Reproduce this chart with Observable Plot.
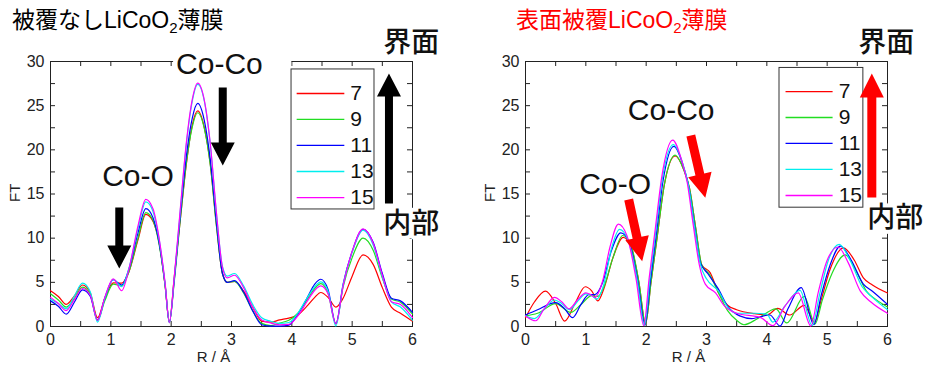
<!DOCTYPE html>
<html><head><meta charset="utf-8">
<script src="https://cdn.jsdelivr.net/npm/d3@7"></script>
<script src="https://cdn.jsdelivr.net/npm/@observablehq/plot@0.6"></script>
<style>
body{margin:0;background:#fff;}
#wrap{position:relative;width:926px;height:370px;overflow:hidden;}
.title{position:absolute;top:5px;font-size:23px;line-height:30px;white-space:nowrap;font-family:"Liberation Sans","Noto Sans CJK JP",sans-serif;}
.title sub{font-size:15px;vertical-align:-5px;line-height:0}
.panel{position:absolute;top:0}
</style></head>
<body><div id="wrap">
<div class="title" style="left:12px;color:#000">被覆なしLiCoO<sub>2</sub>薄膜</div>
<div class="title" style="left:516px;color:#ff0000">表面被覆LiCoO<sub>2</sub>薄膜</div>
</div>
<script>
// ---- categories / colours ----
const series = ["7", "9", "11", "13", "15"];
const colors = ["#ff0000", "#22dd22", "#0000ff", "#00eeee", "#ff00ff"];
const xTickLabels = [0, 1, 2, 3, 4, 5, 6];
const yTickLabels = [0, 5, 10, 15, 20, 25, 30];
const xMinor = [0,0.5,1,1.5,2,2.5,3,3.5,4,4.5,5,5.5,6];
const yMinor = [0,2.5,5,7.5,10,12.5,15,17.5,20,22.5,25,27.5,30];

// ---- left panel (uncoated) : shared R grid ----
const X_L = [0,0.13,0.26,0.4,0.53,0.66,0.78,0.9,1.04,1.18,1.3,1.45,1.58,1.7,1.8,1.9,1.97,2.05,2.15,2.25,2.35,2.44,2.55,2.65,2.75,2.85,2.93,3.05,3.2,3.35,3.5,3.65,3.8,3.95,4.1,4.25,4.38,4.48,4.6,4.73,4.85,5.0,5.18,5.35,5.5,5.65,5.8,6.0];
const L7  = [4.05,3.4,2.5,3.5,4.7, 3.8,1.0,3.2,4.95,4.9, 6.2,9.8,12.7,11.9,9.5, 4.6,0.5,5.5,12.0,18.3, 22.8,24.4,22.5,18.3,11.5, 6.0,5.0,5.1,4.0,2.2, 0.6,0.5,0.75,0.95,1.3, 2.3,3.3,3.85,3.3,2.2, 3.2,5.7,8.1,7.0,4.4, 2.2,1.5,0.6];
const L9  = [3.7,3.0,2.2,3.2,4.45, 3.6,0.75,2.9,4.8,4.6, 6.2,10.0,12.9,12.0,9.3, 4.6,0.45,5.0,12.0,18.4, 22.6,24.2,22.4,18.2,11.4, 6.0,5.0,5.1,3.8,1.8, 0.35,0.1,0.4,0.7,1.5, 3.0,4.3,4.85,3.8,0.3, 4.5,7.8,10.0,8.6,5.5, 3.1,2.75,1.4];
const L11 = [2.9,2.3,1.4,2.8,4.15, 3.4,0.7,3.2,5.3,4.7, 6.5,10.6,13.35,12.3,9.5, 4.7,0.45,5.2,12.5,19.2, 23.6,25.25,23.3,18.8,11.8, 6.0,5.0,5.2,3.9,1.8, 0.2,0.05,0.05,0.15,1.4, 3.2,4.8,5.35,4.2,0.3, 4.8,8.5,11.0,9.5,6.0, 3.2,2.9,1.6];
const L13 = [3.1,2.6,2.0,3.5,4.9, 3.9,0.5,3.2,5.3,4.5, 6.6,11.1,14.1,13.0,9.9, 4.8,0.45,5.4,13.0,20.5, 25.5,27.4,25.5,20.5,12.8, 6.8,5.7,6.0,4.6,2.5, 1.0,0.6,0.35,0.45,1.5, 3.2,4.5,5.05,4.0,0.05, 4.7,8.4,10.9,9.2,5.6, 2.8,2.2,0.7];
const L15 = [3.3,2.6,1.8,3.1,4.3, 3.5,0.7,3.3,5.4,4.05, 6.5,11.4,14.4,13.3,10.0, 4.9,0.45,5.5,13.2,20.7, 25.7,27.55,25.6,20.6,12.9, 6.7,5.5,5.8,4.4,2.2, 0.75,0.4,0.2,0.25,1.2, 2.8,4.1,4.6,3.7,0.3, 4.6,8.5,11.05,9.4,5.8, 2.8,2.5,1.0];

// ---- right panel (coated) : per-series R / FT ----
const R7x  = [0,0.15,0.33,0.5,0.65,0.82,0.99,1.1,1.2,1.3,1.45,1.62,1.75,1.88,1.99,2.08,2.18,2.3,2.48,2.62,2.72,2.82,2.92,3.06,3.2,3.35,3.5,3.8,4.0,4.18,4.38,4.62,4.79,4.9,5.05,5.27,5.45,5.6,5.75,6.0];
const R7y  = [1.0,2.8,4.0,2.6,0.6,2.6,4.5,4.0,2.9,4.3,7.8,10.1,9.0,5.0,0.3,5.0,10.0,16.0,19.3,17.8,15.6,11.2,7.0,6.1,3.8,2.4,1.9,1.45,1.3,2.05,1.3,2.4,0.5,3.0,6.5,8.9,7.5,5.5,4.7,3.8];
const R9x  = [0,0.2,0.5,0.75,0.92,1.1,1.2,1.3,1.45,1.61,1.75,1.88,1.99,2.08,2.18,2.3,2.48,2.62,2.72,2.82,2.92,3.05,3.2,3.35,3.5,3.62,3.85,4.15,4.33,4.62,4.8,4.92,5.08,5.3,5.5,5.65,5.8,6.0];
const R9y  = [1.2,1.5,2.6,1.6,2.5,3.5,3.4,4.5,7.8,10.3,9.2,5.0,0.3,5.0,10.0,16.0,19.4,17.8,15.6,11.2,7.0,5.9,3.8,1.8,0.7,0.2,0.9,2.0,0.4,3.4,0.3,3.0,6.0,8.1,6.0,4.0,3.1,2.2];
const R11x = [0,0.2,0.5,0.65,0.78,0.92,1.05,1.15,1.28,1.42,1.58,1.72,1.86,1.98,2.07,2.17,2.28,2.46,2.6,2.7,2.8,2.9,3.02,3.2,3.35,3.55,3.75,4.05,4.22,4.35,4.57,4.78,4.9,5.05,5.22,5.4,5.6,5.75,6.0];
const R11y = [1.3,1.9,2.7,2.0,1.0,2.5,3.6,3.6,5.0,8.5,10.6,9.5,5.2,0.2,5.2,10.5,16.5,20.4,18.5,16.0,11.5,7.2,6.0,4.2,2.3,1.2,0.9,1.3,0.05,2.0,4.4,0.2,3.5,7.0,9.1,7.5,4.8,4.0,2.5];
const R13x = [0,0.15,0.3,0.48,0.6,0.73,0.87,1.0,1.1,1.18,1.3,1.42,1.56,1.7,1.85,1.97,2.06,2.16,2.27,2.45,2.6,2.7,2.8,2.9,3.0,3.2,3.35,3.5,3.8,4.0,4.1,4.3,4.55,4.75,4.88,5.02,5.2,5.38,5.58,5.72,6.0];
const R13y = [1.2,0.9,1.9,3.0,2.6,1.9,2.9,3.7,3.5,3.1,4.8,8.7,11.0,9.8,5.3,0.1,5.3,10.8,16.8,20.6,18.6,16.0,11.3,7.0,5.4,4.0,2.2,1.5,1.5,1.4,0.5,2.3,4.1,0.1,3.8,7.5,9.3,7.5,4.5,3.5,1.9];
const R15x = [0,0.17,0.3,0.48,0.6,0.72,0.86,1.0,1.08,1.15,1.28,1.4,1.54,1.68,1.83,1.96,2.05,2.15,2.26,2.44,2.58,2.68,2.78,2.88,2.98,3.15,3.3,3.5,3.9,4.1,4.3,4.52,4.73,4.85,5.0,5.18,5.35,5.55,5.72,6.0];
const R15y = [1.2,0.65,1.9,3.3,2.8,2.0,3.0,3.8,3.6,3.3,5.2,9.0,11.6,10.3,5.5,0.1,5.5,11.0,17.0,21.1,19.0,16.3,11.5,7.0,4.8,3.8,2.3,1.5,1.0,0.1,2.3,3.8,0.05,3.8,7.5,9.0,7.2,4.0,2.8,1.5];

// ---- build tables ----
const leftSeries = [L7, L9, L11, L13, L15].map(ys => X_L.map((R, i) => ({R, FT: ys[i]})));
const rightSeries = [[R7x,R7y],[R9x,R9y],[R11x,R11y],[R13x,R13y],[R15x,R15y]]
  .map(([xs, ys]) => xs.map((R, i) => ({R, FT: ys[i]})));

// ---- layout (annotation placement, in data units) ----
const W = 463, H = 370;
const layouts = [
  {
    margins: {marginLeft: 50, marginRight: 51, marginTop: 61, marginBottom: 44},
    data: leftSeries,
    legend: {x1: 3.995, x2: 5.37, y1: 13.25, y2: 29.1, lx1: 4.08, lx2: 4.87, tx: 4.97, rows: [26.38, 23.44, 20.5, 17.55, 14.6]},
    labels: [{t: "Co-O", x: 1.45, y: 17.0}, {t: "Co-Co", x: 2.80, y: 29.66}],
    sideLabels: [{t: "界面", x: 5.98, y: 32.1}, {t: "内部", x: 5.98, y: 11.55}],
    gap: {x1: 2.04, x2: 4.0, y1: 29.4, y2: 30.6},
    arrows: [
      {x1: 1.14, y1: 13.47, x2: 1.14, y2: 6.57},
      {x1: 2.855, y1: 27.06, x2: 2.855, y2: 18.23},
      {x1: 5.61, y1: 13.93, x2: 5.61, y2: 28.64}
    ],
    arrowColor: "#000000", arrowShape: [4, 12, 23]
  },
  {
    margins: {marginLeft: 62, marginRight: 39, marginTop: 61, marginBottom: 44},
    data: rightSeries,
    legend: {x1: 4.21, x2: 5.60, y1: 13.45, y2: 29.27, lx1: 4.31, lx2: 5.09, tx: 5.19, rows: [26.6, 23.66, 20.72, 17.78, 14.83]},
    labels: [{t: "Co-O", x: 1.487, y: 16.05}, {t: "Co-Co", x: 2.415, y: 24.5}],
    sideLabels: [{t: "界面", x: 5.98, y: 32.1}, {t: "内部", x: 6.13, y: 12.26}],
    gap: null,
    arrows: [
      {x1: 1.71, y1: 14.38, x2: 1.934, y2: 7.39},
      {x1: 2.74, y1: 21.62, x2: 2.98, y2: 14.57},
      {x1: 5.74, y1: 14.6, x2: 5.74, y2: 28.64}
    ],
    arrowColor: "#ff0000", arrowShape: [4.5, 12, 24]
  }
];

function blockArrow(sw, hw, hl) {
  return {
    draw(ctx, l) {
      const b = -(l - hl);
      ctx.moveTo(-sw, 0); ctx.lineTo(-sw, b); ctx.lineTo(-hw, b);
      ctx.lineTo(0, -l); ctx.lineTo(hw, b); ctx.lineTo(sw, b);
      ctx.lineTo(sw, 0); ctx.closePath();
    }
  };
}

const FONT = "'Liberation Sans', Arial, 'Noto Sans CJK JP', sans-serif";
const CJK = "'Noto Sans CJK JP', sans-serif";
const wrap = document.getElementById("wrap");

layouts.forEach((lay, p) => {
  const m = lay.margins;
  const pw = W - m.marginLeft - m.marginRight, ph = H - m.marginTop - m.marginBottom;
  const kx = pw / 6, ky = ph / 30;
  const arrows = lay.arrows.map(a => {
    const dx = (a.x2 - a.x1) * kx, dy = -(a.y2 - a.y1) * ky;
    return {...a, len: Math.hypot(dx, dy), rot: Math.atan2(dx, -dy) * 180 / Math.PI};
  });
  const lg = lay.legend;
  const marks = [];
  // frame + ticks (inward, on all four sides)
  marks.push(Plot.frame({stroke: "#222", strokeWidth: 1}));
  marks.push(Plot.tickY(yMinor, {y: d => d, insetRight: pw - 5, stroke: "#222"}));
  marks.push(Plot.tickY(yMinor, {y: d => d, insetLeft: pw - 5, stroke: "#222"}));
  marks.push(Plot.tickX(xMinor, {x: d => d, insetTop: ph - 5, stroke: "#222"}));
  marks.push(Plot.tickX(xMinor, {x: d => d, insetBottom: ph - 5, stroke: "#222"}));
  marks.push(Plot.axisX(xTickLabels, {tickSize: 0, tickPadding: 7, label: null, fontSize: 16}));
  marks.push(Plot.axisY(yTickLabels, {tickSize: 0, tickPadding: 6, label: null, fontSize: 16}));
  marks.push(Plot.text(["FT"], {text: d => d, frameAnchor: "left", rotate: -90, dx: -35, dy: 8, fontSize: 15, fill: "#222"}));
  marks.push(Plot.text(["R / Å"], {text: d => d, frameAnchor: "bottom", dx: -18, dy: 35, fontSize: 15, fill: "#222"}));
  if (lay.gap) marks.push(Plot.rect([lay.gap], {x1: "x1", x2: "x2", y1: "y1", y2: "y2", fill: "white"}));
  // curves
  lay.data.forEach((pts, i) => {
    marks.push(Plot.line(pts, {x: "R", y: "FT", stroke: colors[i], strokeWidth: 1.2, curve: "monotone-x"}));
  });
  // legend
  marks.push(Plot.rect([lg], {x1: "x1", x2: "x2", y1: "y1", y2: "y2", fill: "white", stroke: "#333", strokeWidth: 1}));
  series.forEach((s, i) => {
    marks.push(Plot.link([s], {x1: () => lg.lx1, x2: () => lg.lx2, y1: () => lg.rows[i], y2: () => lg.rows[i], stroke: colors[i], strokeWidth: 1.3}));
  });
  marks.push(Plot.text(series, {x: () => lg.tx, y: (d, i) => lg.rows[i], text: d => d, textAnchor: "start", fontSize: 21, fill: "#111"}));
  // annotations
  marks.push(Plot.text(lay.labels, {x: "x", y: "y", text: "t", fontSize: 30, fill: "#111"}));
  marks.push(Plot.text(lay.sideLabels, {x: "x", y: "y", text: "t", fontSize: 28, fontFamily: CJK, fontWeight: 500, fill: "#111", stroke: "white", strokeWidth: 8}));
  arrows.forEach(a => {
    marks.push(Plot.vector([a], {x: "x1", y: "y1", length: a.len, rotate: a.rot, anchor: "start",
      shape: blockArrow(...lay.arrowShape), fill: lay.arrowColor, stroke: "none"}));
  });
  const chart = Plot.plot({
    width: W, height: H, ...m,
    x: {domain: [0, 6]}, y: {domain: [0, 30]},
    style: {fontFamily: FONT, fontSize: "16px", color: "#222", background: "transparent", overflow: "visible"},
    marks
  });
  const holder = document.createElement("div");
  holder.className = "panel";
  holder.style.left = (p * W) + "px";
  holder.appendChild(chart);
  wrap.insertBefore(holder, wrap.firstChild);
});
</script>
</body></html>
